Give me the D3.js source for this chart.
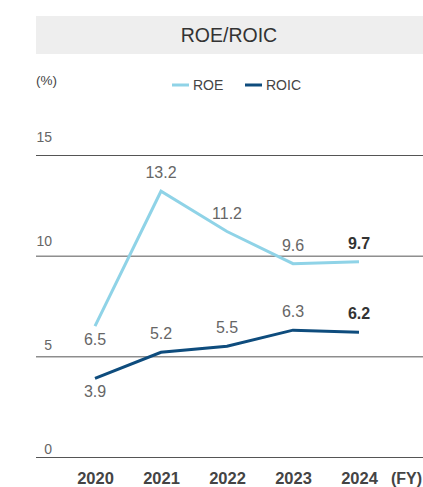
<!DOCTYPE html>
<html>
<head>
<meta charset="utf-8">
<script src="https://cdn.jsdelivr.net/npm/d3@7"></script>
<style>
  html, body { margin: 0; padding: 0; background: #fff; }
  svg { display: block; font-family: "Liberation Sans", Arial, Helvetica, sans-serif; }
</style>
</head>
<body>
<svg id="chart" width="423" height="487"></svg>
<script>
// Fiscal years and return metrics (%)
const years = ["2020", "2021", "2022", "2023", "2024"];
const roe = [6.5, 13.2, 11.2, 9.6, 9.7];
const roic = [3.9, 5.2, 5.5, 6.3, 6.2];
const yTicks = [0, 5, 10, 15];
const seriesNames = ["ROE", "ROIC"];
const seriesColors = ["#8fd3e7", "#0e4c7d"];
// label placement: true = below the point
const roeBelow = [true, false, false, false, false];
const roicBelow = [true, false, false, false, false];

const W = 423, H = 487;
const svg = d3.select("#chart");

// Title band
svg.append("rect")
  .attr("x", 36).attr("y", 16).attr("width", W - 36).attr("height", 38)
  .attr("fill", "#eeeeee");
svg.append("text")
  .attr("x", 229).attr("y", 42)
  .attr("text-anchor", "middle")
  .attr("font-size", 19.5).attr("fill", "#333")
  .text("ROE/ROIC");

// Scales
const x = d3.scalePoint().domain(years).range([95, 359]);
const y = d3.scaleLinear().domain([0, 15]).range([457, 155]);
const yLab = d3.scaleLinear().domain([0, 15]).range([454, 142]);

// Gridlines
const g = svg.append("g").attr("transform", `translate(${W},0)`);
g.call(d3.axisRight(y).tickValues(yTicks).tickSize(-(W - 36)).tickFormat(""));
g.select(".domain").remove();
g.selectAll(".tick line").attr("stroke", "#555").attr("stroke-width", 1);

// Y tick labels above each gridline
svg.append("g").selectAll("text").data(yTicks).join("text")
  .attr("x", 52).attr("y", d => yLab(d))
  .attr("text-anchor", "end")
  .attr("font-size", 14).attr("fill", "#666")
  .text(d => d);

// Unit label
svg.append("text")
  .attr("x", 36).attr("y", 85)
  .attr("font-size", 13.5).attr("fill", "#444")
  .text("(%)");

// Legend
const legendX = [172, 245];
seriesNames.forEach((name, i) => {
  svg.append("line")
    .attr("x1", legendX[i]).attr("x2", legendX[i] + 17)
    .attr("y1", 85).attr("y2", 85)
    .attr("stroke", seriesColors[i]).attr("stroke-width", 3);
  svg.append("text")
    .attr("x", legendX[i] + 21).attr("y", 90)
    .attr("font-size", 14).attr("fill", "#444")
    .text(name);
});

// X axis labels
const xa = svg.append("g").attr("transform", "translate(0,457)");
xa.call(d3.axisBottom(x).tickSize(0).tickPadding(15));
xa.select(".domain").remove();
xa.selectAll("text")
  .attr("font-size", 16.5).attr("font-weight", "bold").attr("fill", "#444")
  .attr("font-family", "'Liberation Sans', Arial, sans-serif");
svg.append("text")
  .attr("x", 391).attr("y", 484)
  .attr("font-size", 16).attr("font-weight", "bold").attr("fill", "#444")
  .text("(FY)");

// Lines
const line = d3.line().x((d, i) => x(years[i])).y(d => y(d));
[roe, roic].forEach((vals, s) => {
  svg.append("path")
    .datum(vals)
    .attr("d", line)
    .attr("fill", "none")
    .attr("stroke", seriesColors[s])
    .attr("stroke-width", 3)
    .attr("stroke-linejoin", "miter");
});

// Data labels
function labels(vals, below) {
  svg.append("g").selectAll("text").data(vals).join("text")
    .attr("x", (d, i) => x(years[i]))
    .attr("y", (d, i) => below[i] ? y(d) + 19 : y(d) - 13)
    .attr("text-anchor", "middle")
    .attr("font-size", 16)
    .attr("font-weight", (d, i) => i === vals.length - 1 ? "bold" : "normal")
    .attr("fill", (d, i) => i === vals.length - 1 ? "#333" : "#666")
    .text(d => d.toFixed(1));
}
labels(roe, roeBelow);
labels(roic, roicBelow);
</script>
</body>
</html>
